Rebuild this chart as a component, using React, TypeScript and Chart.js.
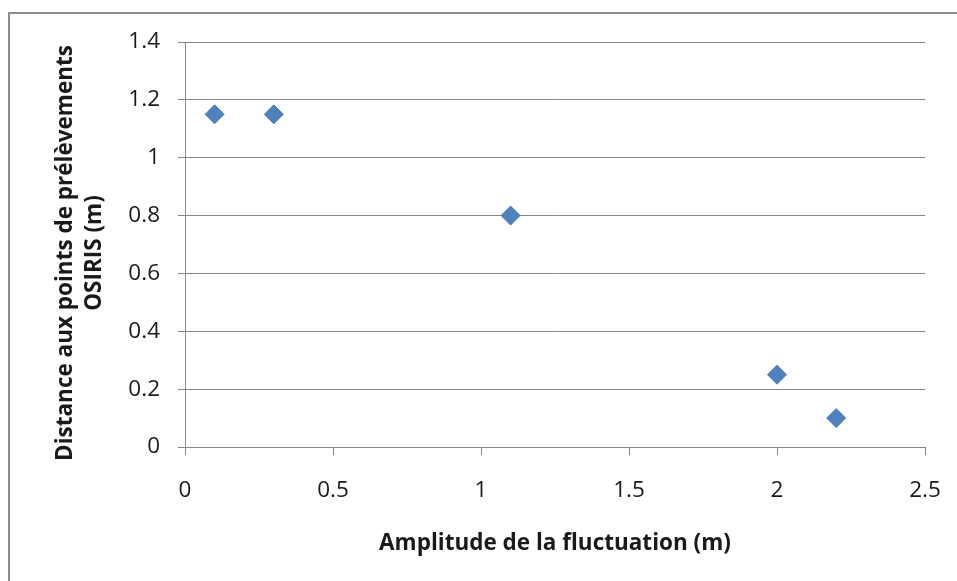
import React, { useEffect, useRef } from "react";
import { Chart, registerables } from "chart.js";

Chart.register(...registerables);

const amplitudes = [0.1, 0.3, 1.1, 2.0, 2.2];
const distances = [1.15, 1.15, 0.8, 0.25, 0.1];
const xTickLabels = ["0", "0.5", "1", "1.5", "2", "2.5"];
const yTickLabels = ["0", "0.2", "0.4", "0.6", "0.8", "1", "1.2", "1.4"];
const xTitle = "Amplitude de la fluctuation (m)";
const yTitle = ["Distance aux points de prélèvements", "OSIRIS (m)"];

const FONT = "'Open Sans', 'DejaVu Sans', sans-serif";
const GRID = "#878787";
const TEXT = "#1a1a1a";

const framePlugin = {
  id: "frame",
  beforeDraw(chart: any) {
    const ctx = chart.ctx;
    ctx.save();
    ctx.fillStyle = "#ffffff";
    ctx.fillRect(0, 0, chart.width, chart.height);
    ctx.strokeStyle = "#8e8e8e";
    ctx.lineWidth = 2;
    ctx.beginPath();
    ctx.moveTo(9, chart.height + 2);
    ctx.lineTo(9, 13);
    ctx.lineTo(chart.width + 2, 13);
    ctx.stroke();
    ctx.restore();
  },
};

// y-axis title, two lines, read bottom-to-top
const yTitlePlugin = {
  id: "yTitle",
  afterDraw(chart: any) {
    const ctx = chart.ctx;
    const area = chart.chartArea;
    const cy = (area.top + area.bottom) / 2 + 8.5;
    const baselines = [72, 101];
    ctx.save();
    ctx.fillStyle = TEXT;
    ctx.font = `bold 22.5px ${FONT}`;
    ctx.textAlign = "center";
    ctx.textBaseline = "alphabetic";
    yTitle.forEach((line, i) => {
      ctx.save();
      ctx.translate(baselines[i], cy);
      ctx.rotate(-Math.PI / 2);
      ctx.fillText(line, 0, 0);
      ctx.restore();
    });
    ctx.restore();
  },
};

export default function App() {
  const ref = useRef<HTMLCanvasElement | null>(null);
  useEffect(() => {
    if (!ref.current) return;
    const chart = new Chart(ref.current, {
      type: "scatter",
      data: {
        datasets: [
          {
            label: "Distance",
            data: amplitudes.map((x, i) => ({ x, y: distances[i] })),
            pointStyle: "rectRot",
            pointRadius: 9.5,
            pointHoverRadius: 9.5,
            backgroundColor: "#4f81bd",
            borderColor: "#4a7ebb",
            borderWidth: 1,
          },
        ],
      },
      options: {
        animation: false,
        responsive: false,
        maintainAspectRatio: false,
        layout: { padding: { left: 0, top: 42, right: 32, bottom: 0 } },
        plugins: { legend: { display: false }, tooltip: { enabled: false } },
        scales: {
          x: {
            type: "linear",
            min: 0,
            max: 2.5,
            afterFit: (s: any) => {
              s.height = 134;
              s.paddingLeft = 0;
              s.paddingRight = 0;
            },
            ticks: {
              stepSize: 0.5,
              padding: 22,
              color: TEXT,
              font: { family: FONT, size: 22.5 },
              maxRotation: 0,
              callback: (_v: any, i: number) => xTickLabels[i],
            },
            grid: {
              display: true,
              drawOnChartArea: false,
              drawTicks: true,
              tickLength: 8,
              color: GRID,
              lineWidth: 1,
            },
            border: { display: true, color: GRID, width: 1 },
            title: {
              display: true,
              text: xTitle,
              color: TEXT,
              font: { family: FONT, size: 22.5, weight: "bold", lineHeight: 0.98 },
              padding: { top: 0, bottom: 26 },
            },
          },
          y: {
            type: "linear",
            min: 0,
            max: 1.4,
            afterFit: (s: any) => {
              s.width = 185;
              s.paddingTop = 0;
              s.paddingBottom = 0;
            },
            ticks: {
              stepSize: 0.2,
              padding: 18,
              color: TEXT,
              font: { family: FONT, size: 22.5 },
              callback: (_v: any, i: number) => yTickLabels[i],
            },
            grid: {
              display: true,
              drawOnChartArea: true,
              drawTicks: true,
              tickLength: 7,
              color: GRID,
              lineWidth: 1,
            },
            border: { display: true, color: GRID, width: 1 },
            title: { display: false },
          },
        },
      },
      plugins: [framePlugin, yTitlePlugin],
    });
    return () => chart.destroy();
  }, []);
  return (
    <div style={{ position: "absolute", left: 0, top: 0, width: 957, height: 581 }}>
      <canvas ref={ref} width={957} height={581} style={{ display: "block", width: 957, height: 581 }} />
    </div>
  );
}
